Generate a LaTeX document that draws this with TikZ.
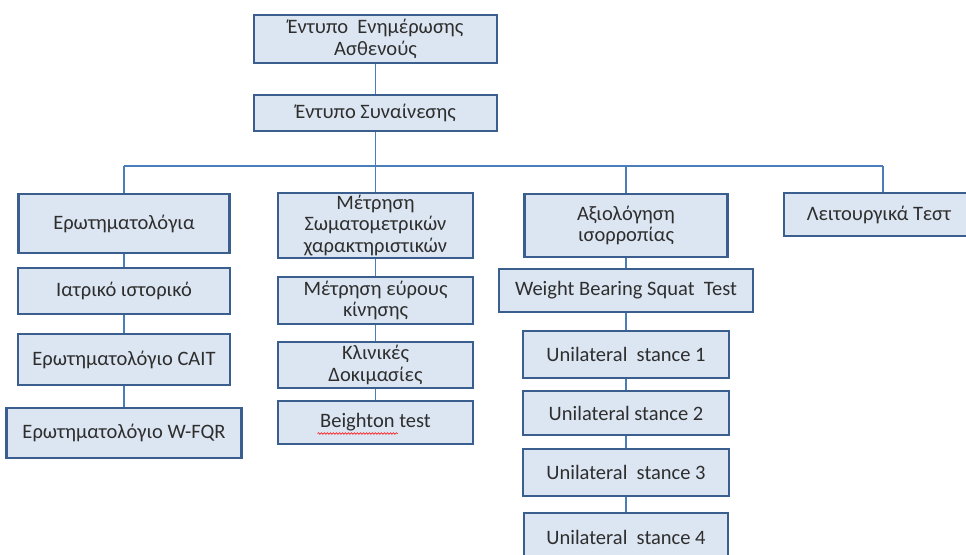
\documentclass[tikz,border=0pt]{standalone}
\usepackage{fontspec}
\setmainfont{Carlito}
\usetikzlibrary{backgrounds,decorations.pathmorphing}
\definecolor{boxfill}{HTML}{DCE6F2}
\definecolor{boxdraw}{HTML}{3A5F8E}
\definecolor{linkcol}{HTML}{4A7EBB}
\definecolor{txt}{HTML}{2E2E2E}
\tikzset{
  orgbox/.style={draw=boxdraw, fill=boxfill, line width=2.3pt, inner sep=0pt,
    align=center, text=txt, font=\fontsize{20.5}{21.5}\selectfont},
  link/.style={draw=linkcol, line width=1.1pt}
}
\begin{document}
\begin{tikzpicture}[x=1pt,y=-1pt]
\useasboundingbox (0,0) rectangle (966,554);
\clip (0,0) rectangle (966,554);
% top
\node[orgbox, minimum width=243pt, minimum height=48pt] (top) at (375.5,39) {Έντυπο\ \ Ενημέρωσης\\Ασθενούς};
\node[orgbox, minimum width=243pt, minimum height=36pt] (syn) at (375.5,113) {Έντυπο Συναίνεσης};
% left column
\node[orgbox, minimum width=211pt, minimum height=59pt] (ero) at (124,223.5) {Ερωτηματολόγια};
\node[orgbox, minimum width=212pt, minimum height=46pt] (iat) at (124,291) {Ιατρικό ιστορικό};
\node[orgbox, minimum width=212pt, minimum height=51pt] (cait) at (124,359.5) {Ερωτηματολόγιο CAIT};
\node[orgbox, minimum width=235pt, minimum height=50pt] (wfqr) at (124,433) {Ερωτηματολόγιο W-FQR};
% middle column
\node[orgbox, minimum width=195pt, minimum height=65pt] (met) at (375.5,225.5) {Μέτρηση\\Σωματομετρικών\\χαρακτηριστικών};
\node[orgbox, minimum width=195pt, minimum height=47pt] (eur) at (375.5,300.5) {Μέτρηση εύρους\\κίνησης};
\node[orgbox, minimum width=195pt, minimum height=46pt] (kli) at (375.5,365) {Κλινικές\\Δοκιμασίες};
\node[orgbox, minimum width=195pt, minimum height=43pt] (bei) at (375.5,422.5) {Beighton test};
% right column
\node[orgbox, minimum width=203pt, minimum height=63pt] (axi) at (626,225.5) {Αξιολόγηση\\ισορροπίας};
\node[orgbox, minimum width=254pt, minimum height=43pt] (wbs) at (626,290.5) {Weight Bearing Squat\ \ Test};
\node[orgbox, minimum width=206pt, minimum height=47pt] (u1) at (626,354.5) {Unilateral\ \ stance 1};
\node[orgbox, minimum width=206pt, minimum height=44pt] (u2) at (626,413) {Unilateral stance 2};
\node[orgbox, minimum width=206pt, minimum height=47pt] (u3) at (626,472.5) {Unilateral\ \ stance 3};
\node[orgbox, minimum width=204pt, minimum height=49pt] (u4) at (626,537.5) {Unilateral\ \ stance 4};
% far right
\node[orgbox, minimum width=190pt, minimum height=43pt] (lei) at (879,214.5) {Λειτουργικά Τεστ};
% spell-check underline
\coordinate (sqa) at ([xshift=-58pt,yshift=-11pt]bei.center);
\coordinate (sqb) at ([xshift=22pt,yshift=-11pt]bei.center);
\draw[red, line width=0.6pt, decorate, decoration={snake, amplitude=0.8pt, segment length=3pt}] (sqa) -- (sqb);
% connectors
\coordinate (busL) at (124,166);
\coordinate (busR) at (883,166);
\begin{scope}[on background layer]
\draw[link] (top.center) -- (syn.center);
\draw[link] (syn.center) -- (syn.center |- busL);
\draw[link] (busL) -- (busR);
\draw[link] (busL) -- (ero.center);
\draw[link] (syn.center |- busL) -- (met.center);
\draw[link] (axi.center |- busL) -- (axi.center);
\draw[link] (busR) -- (busR |- lei.center);
\draw[link] (ero) -- (iat) -- (cait) -- (wfqr);
\draw[link] (met) -- (eur) -- (kli) -- (bei);
\draw[link] (axi) -- (wbs) -- (u1) -- (u2) -- (u3) -- (u4);
\end{scope}
\end{tikzpicture}
\end{document}
